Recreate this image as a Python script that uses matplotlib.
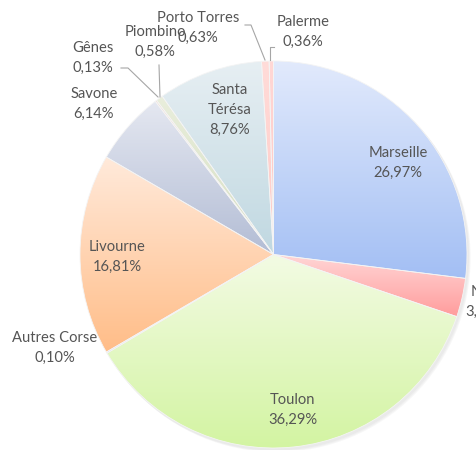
import numpy as np
import matplotlib
matplotlib.use("Agg")
import matplotlib.pyplot as plt
from matplotlib.colors import LinearSegmentedColormap

# ports and share of traffic (%)
ports = ["Marseille", "Nice", "Toulon", "Autres Corse", "Livourne", "Savone",
         "Gênes", "Piombino", "Santa\nTérésa", "Porto Torres", "Palerme"]
shares = [26.97, 3.23, 36.29, 0.10, 16.81, 6.14, 0.13, 0.58, 8.76, 0.63, 0.36]
labels = ["26,97%", "3,23%", "36,29%", "0,10%", "16,81%", "6,14%",
          "0,13%", "0,58%", "8,76%", "0,63%", "0,36%"]

# gradient colours: (top, bottom)
grad = [("#e2eafc", "#a3bff4"),
        ("#ffd6d6", "#ff9c9c"),
        ("#f3fbe4", "#d3f4a2"),
        ("#d9d4ec", "#c2bbe0"),
        ("#ffeadb", "#ffbd88"),
        ("#e5e8f1", "#b3bdd5"),
        ("#f2dcd2", "#e8c8b8"),
        ("#e9eedc", "#d6dfc2"),
        ("#e7eff3", "#c0d8e1"),
        ("#ffdcd9", "#ffc8c4"),
        ("#ffd8d6", "#ffc4c2")]

W, H = 476, 450
fig = plt.figure(figsize=(W / 100, H / 100), dpi=100)
ax = fig.add_axes([0, 0, 1, 1])

cx, cy, R = 273.5, H - 254.5, 193.5

# soft shadow
for k, a in enumerate([0.05, 0.05, 0.06]):
    sh = plt.Circle((cx + 1.5 + k * 0.8, cy - 2 - k * 0.8), R + 0.5, color="#7f7f7f",
                    alpha=a, lw=0, zorder=0)
    ax.add_patch(sh)

wedges, _ = ax.pie(shares, startangle=90, counterclock=False, center=(cx, cy),
                   radius=R, frame=True,
                   wedgeprops=dict(linewidth=0.6, edgecolor="#f4f4f4"))

for w, (ctop, cbot) in zip(wedges, grad):
    w.set_facecolor("none")
    ext = w.get_path().get_extents()
    cmap = LinearSegmentedColormap.from_list("g", [cbot, ctop])
    img = ax.imshow(np.linspace(0, 1, 256).reshape(-1, 1), cmap=cmap, origin="lower",
                    extent=(ext.x0, ext.x1, ext.y0, ext.y1), aspect="auto",
                    interpolation="bilinear", zorder=1)
    img.set_clip_path(w)
    w.set_zorder(2)

ax.set_xlim(0, W)
ax.set_ylim(0, H)
ax.set_aspect("auto")
ax.axis("off")

txt = dict(color="#555555", fontsize=10.6, family="Lato", ha="center", va="center",
           linespacing=1.5, zorder=5)

# label positions in pixels (centre of text block)
pos = [(398, 163), (486, 302), (293, 410), (55, 348), (117, 257), (94, 104),
       (93, 58), (155, 42), (230, 110), (198, 28), (303, 32)]
for name, lab, (px, py) in zip(ports, labels, pos):
    s = name + "\n" + lab
    if name.startswith("Santa"):
        s = "Santa\nTérésa\n" + lab
    ax.text(px, H - py, s, **txt)

# leader lines
lc = dict(color="#a6a6a6", lw=0.8, zorder=4)
ax.plot([121, 128, 158], [H - 68, H - 68, H - 97], **lc)
ax.plot([159, 160], [H - 65, H - 97], **lc)
ax.plot([245, 251, 265], [H - 25, H - 25, H - 60], **lc)
ax.plot([274, 270, 270], [H - 47, H - 47, H - 60], **lc)

fig.savefig("out.png", dpi=100)
